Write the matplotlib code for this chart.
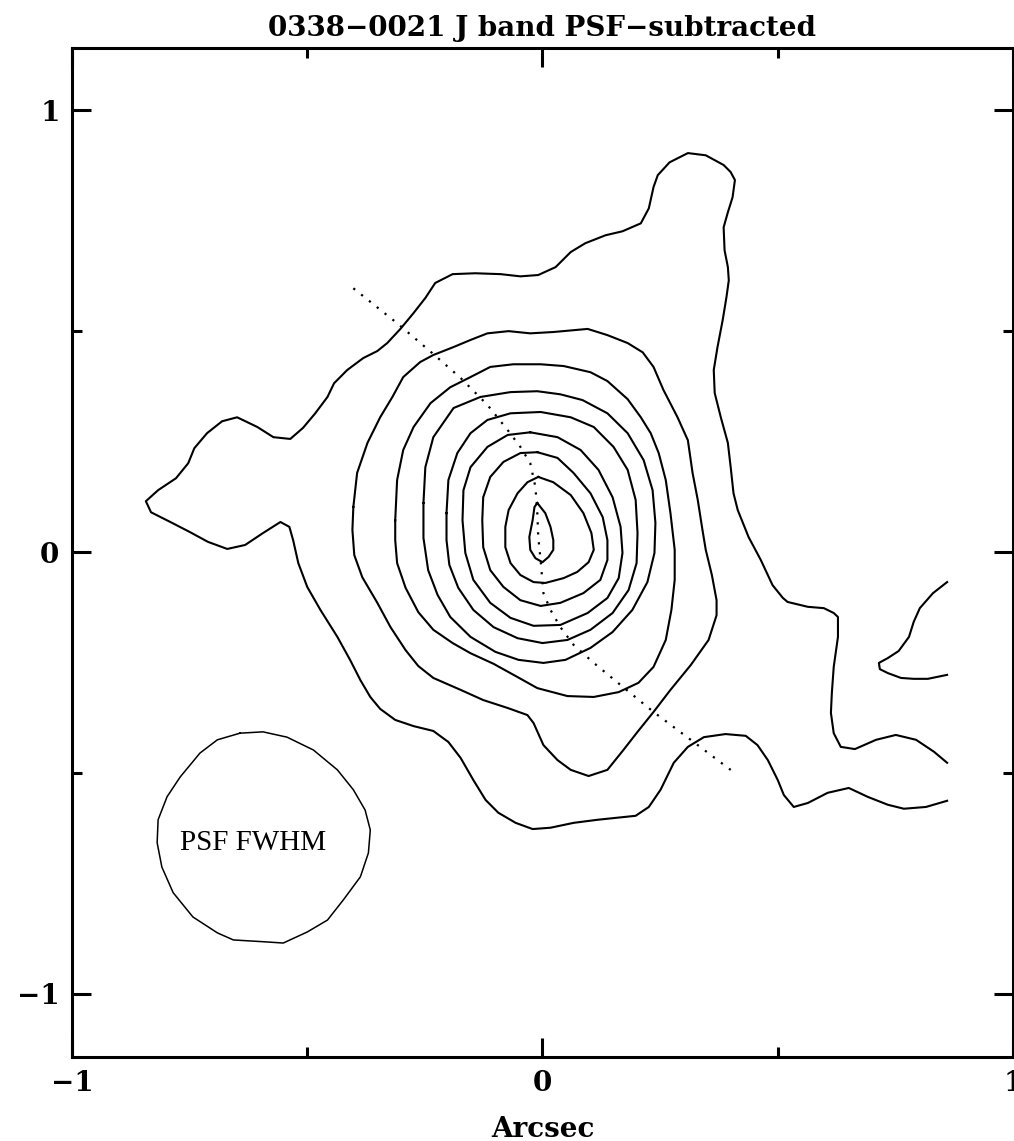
import matplotlib
matplotlib.use("Agg")
import matplotlib.pyplot as plt
import numpy as np

# Contour polylines, offsets in arcsec (x, y).
# Lowest level: runs off the right edge of the map, so it is left open.
level_1 = np.array([
    (0.860, -0.477), (0.832, -0.452), (0.794, -0.425), (0.751, -0.414), (0.709, -0.425),
    (0.664, -0.446), (0.634, -0.441), (0.619, -0.410), (0.613, -0.364), (0.615, -0.319),
    (0.619, -0.260), (0.628, -0.192), (0.628, -0.147), (0.619, -0.138), (0.598, -0.127),
    (0.564, -0.124), (0.521, -0.113), (0.511, -0.104), (0.489, -0.075), (0.464, -0.018),
    (0.438, 0.034), (0.415, 0.095), (0.406, 0.133), (0.400, 0.192), (0.394, 0.247),
    (0.379, 0.305), (0.366, 0.360), (0.364, 0.412), (0.372, 0.464), (0.383, 0.525),
    (0.391, 0.577), (0.396, 0.615), (0.394, 0.645), (0.387, 0.683), (0.385, 0.735),
    (0.394, 0.769), (0.404, 0.803), (0.409, 0.842), (0.400, 0.860), (0.385, 0.876),
    (0.347, 0.898), (0.309, 0.903), (0.270, 0.882), (0.245, 0.853), (0.236, 0.826),
    (0.226, 0.778), (0.209, 0.744), (0.170, 0.726), (0.134, 0.717), (0.091, 0.699),
    (0.060, 0.679), (0.028, 0.645), (-0.009, 0.627), (-0.047, 0.624), (-0.089, 0.629),
    (-0.143, 0.631), (-0.191, 0.629), (-0.228, 0.609), (-0.249, 0.575), (-0.274, 0.541),
    (-0.302, 0.505), (-0.330, 0.473), (-0.351, 0.455), (-0.381, 0.439), (-0.415, 0.412),
    (-0.443, 0.382), (-0.457, 0.351), (-0.483, 0.314), (-0.509, 0.281), (-0.536, 0.256),
    (-0.572, 0.260), (-0.606, 0.283), (-0.649, 0.305), (-0.681, 0.296), (-0.713, 0.269),
    (-0.740, 0.235), (-0.753, 0.201), (-0.779, 0.167), (-0.817, 0.140), (-0.843, 0.115),
    (-0.832, 0.090), (-0.791, 0.068), (-0.749, 0.045), (-0.711, 0.023), (-0.670, 0.007),
    (-0.632, 0.016), (-0.594, 0.043), (-0.557, 0.068), (-0.538, 0.057), (-0.530, 0.027),
    (-0.519, -0.025), (-0.500, -0.079), (-0.472, -0.131), (-0.436, -0.192), (-0.409, -0.244),
    (-0.387, -0.290), (-0.366, -0.328), (-0.345, -0.355), (-0.313, -0.380), (-0.274, -0.394),
    (-0.232, -0.405), (-0.200, -0.430), (-0.174, -0.466), (-0.147, -0.516), (-0.121, -0.561),
    (-0.094, -0.590), (-0.057, -0.613), (-0.021, -0.627), (0.017, -0.624), (0.066, -0.613),
    (0.117, -0.606), (0.198, -0.597), (0.226, -0.577), (0.251, -0.538), (0.279, -0.477),
    (0.309, -0.441), (0.343, -0.419), (0.389, -0.412), (0.432, -0.416), (0.457, -0.437),
    (0.479, -0.471), (0.500, -0.516), (0.513, -0.550), (0.534, -0.577), (0.564, -0.568),
    (0.606, -0.545), (0.651, -0.534), (0.691, -0.554), (0.734, -0.572), (0.768, -0.581),
    (0.815, -0.577), (0.860, -0.563),
])

# Lowest level, small piece at the right edge
level_1_edge = np.array([
    (0.860, -0.068), (0.830, -0.093), (0.802, -0.127), (0.789, -0.158), (0.779, -0.192),
    (0.757, -0.224), (0.734, -0.240), (0.715, -0.251), (0.717, -0.265), (0.734, -0.274),
    (0.762, -0.285), (0.789, -0.287), (0.819, -0.287), (0.860, -0.278),
])

level_2 = np.array([
    (-0.402, 0.102), (-0.394, 0.179), (-0.372, 0.247), (-0.345, 0.305), (-0.319, 0.351),
    (-0.296, 0.396), (-0.260, 0.430), (-0.232, 0.446), (-0.189, 0.464), (-0.153, 0.480),
    (-0.117, 0.495), (-0.072, 0.500), (-0.026, 0.495), (0.023, 0.498), (0.096, 0.505),
    (0.138, 0.491), (0.181, 0.473), (0.213, 0.452), (0.236, 0.419), (0.257, 0.367),
    (0.287, 0.305), (0.309, 0.253), (0.319, 0.179), (0.330, 0.118), (0.340, 0.050),
    (0.347, 0.005), (0.360, -0.052), (0.370, -0.109), (0.370, -0.143), (0.353, -0.199),
    (0.315, -0.256), (0.272, -0.312), (0.236, -0.362), (0.202, -0.407), (0.172, -0.448),
    (0.138, -0.493), (0.098, -0.507), (0.060, -0.493), (0.032, -0.471), (0.002, -0.437),
    (-0.019, -0.387), (-0.032, -0.369), (-0.074, -0.353), (-0.126, -0.335), (-0.174, -0.312),
    (-0.232, -0.285), (-0.264, -0.258), (-0.291, -0.222), (-0.323, -0.170), (-0.351, -0.115),
    (-0.383, -0.057), (-0.400, -0.007), (-0.404, 0.050),
])

level_3 = np.array([
    (-0.313, 0.072), (-0.309, 0.163), (-0.296, 0.231), (-0.274, 0.283), (-0.238, 0.337),
    (-0.196, 0.373), (-0.153, 0.396), (-0.111, 0.419), (-0.062, 0.425), (-0.004, 0.425),
    (0.045, 0.421), (0.102, 0.407), (0.138, 0.387), (0.181, 0.346), (0.209, 0.305),
    (0.230, 0.269), (0.247, 0.224), (0.262, 0.163), (0.272, 0.088), (0.281, 0.005),
    (0.281, -0.063), (0.274, -0.131), (0.262, -0.199), (0.236, -0.260), (0.204, -0.296),
    (0.162, -0.317), (0.109, -0.328), (0.053, -0.326), (-0.011, -0.308), (-0.053, -0.283),
    (-0.104, -0.253), (-0.153, -0.229), (-0.191, -0.206), (-0.232, -0.176), (-0.264, -0.136),
    (-0.291, -0.081), (-0.309, -0.025), (-0.313, 0.027),
])

level_4 = np.array([
    (-0.253, 0.111), (-0.249, 0.192), (-0.232, 0.260), (-0.189, 0.326), (-0.132, 0.351),
    (-0.068, 0.362), (-0.011, 0.364), (0.038, 0.357), (0.085, 0.344), (0.138, 0.314),
    (0.181, 0.269), (0.215, 0.208), (0.234, 0.140), (0.240, 0.066), (0.238, -0.002),
    (0.223, -0.068), (0.191, -0.131), (0.149, -0.181), (0.102, -0.217), (0.049, -0.244),
    (0.002, -0.251), (-0.051, -0.244), (-0.100, -0.226), (-0.153, -0.192), (-0.196, -0.147),
    (-0.223, -0.097), (-0.243, -0.041), (-0.253, 0.032),
])

level_5 = np.array([
    (-0.204, 0.088), (-0.200, 0.163), (-0.181, 0.224), (-0.153, 0.269), (-0.117, 0.299),
    (-0.068, 0.314), (-0.004, 0.317), (0.060, 0.305), (0.109, 0.283), (0.151, 0.238),
    (0.181, 0.186), (0.198, 0.118), (0.202, 0.043), (0.200, -0.025), (0.183, -0.086),
    (0.149, -0.138), (0.102, -0.176), (0.053, -0.199), (0.000, -0.206), (-0.053, -0.195),
    (-0.104, -0.170), (-0.147, -0.131), (-0.179, -0.081), (-0.198, -0.029), (-0.204, 0.027),
])

level_6 = np.array([
    (-0.026, 0.271), (-0.074, 0.265), (-0.117, 0.238), (-0.153, 0.192), (-0.168, 0.140),
    (-0.170, 0.072), (-0.164, -0.002), (-0.147, -0.063), (-0.111, -0.115), (-0.068, -0.149),
    (-0.019, -0.167), (0.038, -0.165), (0.096, -0.138), (0.138, -0.104), (0.162, -0.059),
    (0.170, -0.002), (0.166, 0.057), (0.149, 0.124), (0.119, 0.186), (0.081, 0.231),
    (0.032, 0.260),
])

level_7 = np.array([
    (-0.011, 0.226), (-0.047, 0.224), (-0.083, 0.204), (-0.111, 0.170), (-0.126, 0.124),
    (-0.128, 0.072), (-0.126, 0.011), (-0.111, -0.041), (-0.083, -0.079), (-0.047, -0.109),
    (-0.004, -0.122), (0.038, -0.115), (0.087, -0.093), (0.123, -0.063), (0.138, -0.018),
    (0.138, 0.027), (0.128, 0.079), (0.102, 0.133), (0.066, 0.179), (0.032, 0.213),
])

level_8 = np.array([
    (-0.009, 0.170), (0.023, 0.158), (0.060, 0.129), (0.087, 0.088), (0.104, 0.043),
    (0.109, 0.005), (0.098, -0.023), (0.074, -0.045), (0.045, -0.059), (0.006, -0.070),
    (-0.019, -0.068), (-0.047, -0.052), (-0.068, -0.025), (-0.079, 0.011), (-0.079, 0.057),
    (-0.072, 0.095), (-0.053, 0.133), (-0.032, 0.158),
])

level_9 = np.array([
    (-0.011, 0.111), (0.006, 0.088), (0.017, 0.057), (0.023, 0.027), (0.023, 0.005),
    (0.013, -0.011), (0.000, -0.023), (-0.015, -0.014), (-0.026, 0.005), (-0.028, 0.034),
    (-0.021, 0.072), (-0.017, 0.102),
])

closed_levels = [level_2, level_3, level_4, level_5, level_6, level_7, level_8, level_9]

# PSF FWHM outline
psf_outline = np.array([
    (-0.643, -0.410), (-0.594, -0.407), (-0.543, -0.419), (-0.487, -0.448), (-0.436, -0.493),
    (-0.402, -0.538), (-0.377, -0.584), (-0.366, -0.629), (-0.370, -0.681), (-0.387, -0.735),
    (-0.423, -0.787), (-0.457, -0.833), (-0.500, -0.860), (-0.551, -0.885), (-0.594, -0.882),
    (-0.657, -0.878), (-0.691, -0.862), (-0.743, -0.826), (-0.785, -0.771), (-0.809, -0.713),
    (-0.819, -0.658), (-0.817, -0.606), (-0.798, -0.554), (-0.770, -0.509), (-0.728, -0.455),
    (-0.691, -0.425),
])
psf_label_pos = (-0.615, -0.658)

# dotted cut through the nucleus
cut_line = np.array([
    (-0.402, 0.597), (-0.309, 0.518), (-0.234, 0.450), (-0.174, 0.394), (-0.117, 0.333),
    (-0.074, 0.276), (-0.047, 0.238), (-0.026, 0.201), (-0.015, 0.147), (-0.011, 0.088),
    (-0.009, 0.034), (-0.004, -0.018), (0.002, -0.093), (0.017, -0.131), (0.038, -0.170),
    (0.066, -0.210), (0.109, -0.251), (0.166, -0.301), (0.236, -0.362), (0.315, -0.425),
    (0.406, -0.498),
])

x_ticks = [-1, 0, 1]
y_ticks = [-1, 0, 1]
tick_labels = ["\u22121", "0", "1"]
minor_ticks = [-0.5, 0.5]


def _closed(points: np.ndarray) -> np.ndarray:
    return np.vstack([points, points[:1]])


plt.rcParams["font.family"] = "DejaVu Serif"
plt.rcParams["font.weight"] = "bold"

fig = plt.figure(figsize=(10.14, 11.41), dpi=100)
ax = fig.add_axes([0.071, 0.0736, 0.928, 0.884])

line_kw = dict(color="black", linewidth=1.5)
ax.plot(level_1[:, 0], level_1[:, 1], **line_kw)
ax.plot(level_1_edge[:, 0], level_1_edge[:, 1], **line_kw)
for level in closed_levels:
    ring = _closed(level)
    ax.plot(ring[:, 0], ring[:, 1], **line_kw)

psf = _closed(psf_outline)
ax.plot(psf[:, 0], psf[:, 1], color="black", linewidth=1.1)
ax.text(*psf_label_pos, "PSF FWHM", ha="center", va="center",
        family="Liberation Serif", weight="normal", fontsize=21)

ax.plot(cut_line[:, 0], cut_line[:, 1], color="black", linewidth=1.6,
        linestyle=(0, (1, 3.5)))

ax.set_xlim(-1, 1)
ax.set_ylim(-1.143, 1.140)
ax.set_xticks(x_ticks)
ax.set_xticklabels(tick_labels)
ax.set_yticks(y_ticks)
ax.set_yticklabels(tick_labels)
ax.set_xticks(minor_ticks, minor=True)
ax.set_yticks(minor_ticks, minor=True)
ax.tick_params(which="both", direction="in", top=True, right=True, width=2.2)
ax.tick_params(which="major", length=14, labelsize=20, pad=9)
ax.tick_params(which="minor", length=7.5)
for spine in ax.spines.values():
    spine.set_linewidth(2.2)

ax.set_xlabel("Arcsec", fontsize=20, fontweight="bold", labelpad=14)
ax.set_title("0338\u22120021 J band PSF\u2212subtracted", fontsize=20,
             fontweight="bold", pad=9)

fig.savefig("out.png", dpi=100)
